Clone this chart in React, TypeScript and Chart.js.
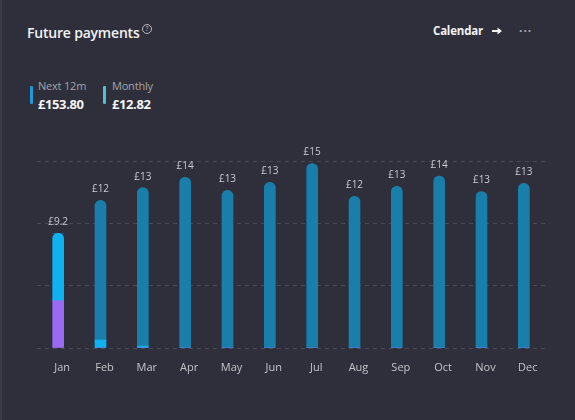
import React, { useEffect, useRef } from "react";
import { Chart, registerables } from "chart.js";

Chart.register(...registerables);

const months = ["Jan", "Feb", "Mar", "Apr", "May", "Jun", "Jul", "Aug", "Sep", "Oct", "Nov", "Dec"];
const purpleSeries = [3.8, 0, 0, 0, 0, 0, 0, 0, 0, 0, 0, 0];
const cyanSeries = [5.4, 0.64, 0.15, 0, 0, 0, 0, 0, 0, 0, 0, 0];
const blueSeries = [0, 11.2, 12.71, 13.7, 12.64, 13.28, 14.8, 12.16, 12.97, 13.8, 12.55, 13.2];
const yTicks = [0, 5, 10, 15];
const next12m = "£153.80";
const monthly = "£12.82";

const FONT = "'Open Sans', 'Noto Sans', sans-serif";

export default function App() {
  const ref = useRef<HTMLCanvasElement | null>(null);

  useEffect(() => {
    document.body.style.margin = "0";
    const canvas = ref.current;
    if (!canvas) return;
    const series = [purpleSeries, cyanSeries, blueSeries];
    const topIndex = (i: number) => {
      let t = -1;
      series.forEach((s, k) => {
        if (s[i] > 0) t = k;
      });
      return t;
    };
    const radiusFor = (k: number) => (ctx: any) => {
      const i = ctx.dataIndex;
      return topIndex(i) === k
        ? { topLeft: 6, topRight: 6, bottomLeft: 0, bottomRight: 0 }
        : 0;
    };
    const labelPlugin = {
      id: "totals",
      afterDatasetsDraw(chart: any) {
        const c = chart.ctx;
        const ys = chart.scales.y;
        const xs = chart.scales.x;
        c.save();
        c.fillStyle = "#c9cad0";
        c.font = `10px ${FONT}`;
        c.textAlign = "center";
        c.textBaseline = "bottom";
        months.forEach((_, i) => {
          const total = purpleSeries[i] + cyanSeries[i] + blueSeries[i];
          const txt = "£" + String(Number(total.toPrecision(2)));
          c.fillText(txt, xs.getPixelForValue(i), ys.getPixelForValue(total) - 6);
        });
        c.restore();
      },
    };
    const chart = new Chart(canvas, {
      type: "bar",
      data: {
        labels: months,
        datasets: [
          { label: "a", data: purpleSeries, backgroundColor: "#9b6af4", borderRadius: radiusFor(0), borderSkipped: false },
          { label: "b", data: cyanSeries, backgroundColor: "#0fb2f0", borderRadius: radiusFor(1), borderSkipped: false },
          { label: "c", data: blueSeries, backgroundColor: "#1a7eab", borderRadius: radiusFor(2), borderSkipped: false },
        ],
      },
      options: {
        animation: false,
        responsive: false,
        maintainAspectRatio: false,
        layout: { padding: { top: 31, right: 30, left: 0, bottom: 0 } },
        datasets: { bar: { barThickness: 11 } },
        plugins: { legend: { display: false }, tooltip: { enabled: false } },
        scales: {
          x: {
            stacked: true,
            grid: { display: false, drawTicks: false },
            border: { display: false },
            ticks: { color: "#c3c4ca", font: { family: FONT, size: 11 }, padding: 13, labelOffset: 4 },
            afterFit: (s: any) => {
              s.height = 42;
            },
          },
          y: {
            stacked: true,
            min: 0,
            max: 15,
            afterBuildTicks: (s: any) => {
              s.ticks = yTicks.map((v) => ({ value: v }));
            },
            ticks: { display: false },
            grid: { color: "rgba(255,255,255,0.13)", drawTicks: false, lineWidth: 1 },
            border: { display: false, dash: [4, 4] },
            afterFit: (s: any) => {
              s.width = 37;
            },
          },
        },
      } as any,
      plugins: [labelPlugin],
    });
    return () => chart.destroy();
  }, []);

  return (
    <div
      style={{
        position: "fixed",
        left: 0,
        top: 0,
        width: 575,
        height: 420,
        background: "#2e2f3a",
        fontFamily: FONT,
        overflow: "hidden",
      }}
    >
      <div style={{ position: "absolute", left: 0, top: 0, width: 2, height: 420, background: "#393a45" }} />
      <div
        style={{
          position: "absolute",
          left: 27,
          top: 23,
          color: "#f2f2f4",
          fontSize: 14,
          fontWeight: 600,
          letterSpacing: -0.2,
          whiteSpace: "nowrap",
        }}
      >
        Future payments
      </div>
      <div
        style={{
          position: "absolute",
          left: 142,
          top: 24,
          width: 8,
          height: 8,
          border: "1px solid #b8b9c0",
          borderRadius: "50%",
          color: "#b8b9c0",
          fontSize: 7,
          lineHeight: "8px",
          textAlign: "center",
        }}
      >
        ?
      </div>
      <div
        style={{
          position: "absolute",
          left: 433,
          top: 23,
          color: "#f2f2f4",
          fontSize: 11.5,
          fontWeight: 700,
          letterSpacing: -0.2,
          whiteSpace: "nowrap",
        }}
      >
        Calendar
      </div>
      <svg style={{ position: "absolute", left: 491, top: 26 }} width={12} height={10} viewBox="0 0 12 10">
        <line x1={1} y1={5} x2={8} y2={5} stroke="#f2f2f4" strokeWidth={2} />
        <polygon points="6.5,1.5 11,5 6.5,8.5" fill="#f2f2f4" />
      </svg>
      <div style={{ position: "absolute", left: 519, top: 22, color: "#a9aab2", fontSize: 12, fontWeight: 700, letterSpacing: 1 }}>
        ···
      </div>

      <div style={{ position: "absolute", left: 30, top: 86, width: 2.5, height: 18, background: "#1e9ad8", borderRadius: 1 }} />
      <div style={{ position: "absolute", left: 38, top: 78, color: "#a3a5ad", fontSize: 11, letterSpacing: -0.2, whiteSpace: "nowrap" }}>
        Next 12m
      </div>
      <div
        style={{
          position: "absolute",
          left: 38,
          top: 95,
          color: "#f4f4f6",
          fontSize: 13,
          fontWeight: 700,
          letterSpacing: -0.4,
          whiteSpace: "nowrap",
        }}
      >
        {next12m}
      </div>
      <div style={{ position: "absolute", left: 103, top: 86, width: 2.5, height: 18, background: "#4cc2da", borderRadius: 1 }} />
      <div style={{ position: "absolute", left: 112, top: 78, color: "#a3a5ad", fontSize: 11, letterSpacing: -0.2, whiteSpace: "nowrap" }}>
        Monthly
      </div>
      <div
        style={{
          position: "absolute",
          left: 112,
          top: 95,
          color: "#f4f4f6",
          fontSize: 13,
          fontWeight: 700,
          letterSpacing: -0.4,
          whiteSpace: "nowrap",
        }}
      >
        {monthly}
      </div>

      <canvas
        ref={ref}
        width={575}
        height={260}
        style={{ position: "absolute", left: 0, top: 130, width: 575, height: 260 }}
      />
    </div>
  );
}
